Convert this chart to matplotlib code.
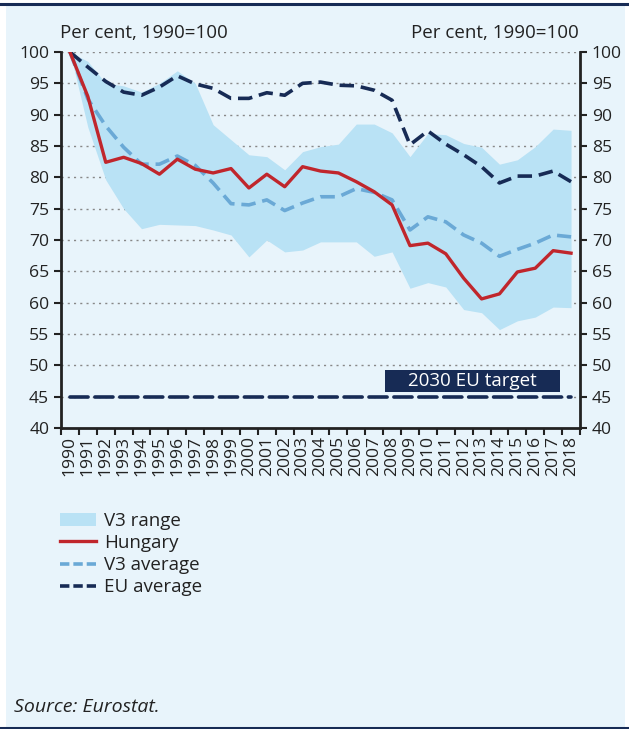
import matplotlib
matplotlib.use('Agg')
import matplotlib.pyplot as plt
from matplotlib.patches import Rectangle, Patch
from matplotlib.lines import Line2D
import numpy as np

plt.rcParams['font.family'] = ['Open Sans', 'DejaVu Sans']

years = [str(y) for y in range(1990, 2019)]

hungary = [100, 92.9, 82.4, 83.2, 82.2, 80.5, 82.9, 81.3, 80.7, 81.4,
           78.3, 80.5, 78.5, 81.7, 81.0, 80.7, 79.3, 77.7, 75.6, 69.1,
           69.5, 67.8, 63.9, 60.6, 61.4, 64.9, 65.5, 68.3, 67.9]
v3_avg = [100, 92.5, 88.2, 84.8, 82.1, 82.1, 83.4, 81.9, 79.1, 75.8,
          75.6, 76.4, 74.7, 75.9, 76.9, 76.9, 78.2, 77.6, 76.4, 71.6,
          73.7, 72.9, 70.8, 69.5, 67.4, 68.5, 69.5, 70.8, 70.5]
eu_avg = [100, 97.6, 95.3, 93.6, 93.1, 94.4, 96.2, 94.9, 94.2, 92.6,
          92.6, 93.5, 93.1, 95.0, 95.2, 94.7, 94.6, 93.9, 92.3, 85.2,
          87.4, 85.3, 83.6, 81.7, 79.1, 80.2, 80.2, 81.0, 79.3]
v3_max = [100, 98.5, 95.0, 94.6, 93.6, 95.0, 97.0, 95.0, 88.4, 86.0,
          83.6, 83.3, 81.2, 84.1, 84.9, 85.3, 88.5, 88.5, 87.1, 83.3,
          87.0, 86.8, 85.4, 84.8, 82.1, 82.8, 84.9, 87.7, 87.5]
v3_min = [100, 88.0, 79.6, 75.0, 71.8, 72.5, 72.4, 72.3, 71.6, 70.8,
          67.3, 70.0, 68.1, 68.4, 69.7, 69.7, 69.7, 67.4, 68.1, 62.3,
          63.2, 62.5, 58.9, 58.4, 55.7, 57.1, 57.7, 59.3, 59.2]
target = 45

BG = '#E8F4FB'
FILL = '#B9E2F5'
NAVY = '#172B55'
RED = '#C0262C'
LBLUE = '#6AA9D6'
INK = '#222222'
FS_TICK = 12.6
FS = 13.5

fig = plt.figure(figsize=(6.29, 7.29), dpi=100)
fig.patch.set_facecolor('white')
# fond du panneau et filets bleu marine
fig.patches.append(Rectangle((6 / 629, 0.003), 619 / 629, 0.99, transform=fig.transFigure,
                             facecolor=BG, edgecolor='none', zorder=-10))
fig.add_artist(Line2D([0, 1], [1 - 3.5 / 729, 1 - 3.5 / 729], color=NAVY, lw=2.2))
fig.add_artist(Line2D([0, 1], [1.5 / 729, 1.5 / 729], color=NAVY, lw=2.2))

ax = fig.add_axes([61 / 629, 1 - 428 / 729, 519 / 629, 376 / 729])
ax.set_facecolor('none')
x = np.arange(len(years))

ax.fill_between(x, v3_min, v3_max, color=FILL, lw=0, zorder=1)
for yv in range(45, 101, 5):
    ax.axhline(yv, color='#888888', lw=1.0, ls=(0, (1.5, 3)), zorder=0.5)
ax.plot(x, [target] * len(x), color=NAVY, lw=2.6, dashes=(5, 1.9), dash_capstyle='round', zorder=3)
ax.plot(x, eu_avg, color=NAVY, lw=2.6, dashes=(4, 1.9), zorder=4)
ax.plot(x, v3_avg, color=LBLUE, lw=2.6, dashes=(4, 1.9), zorder=3)
ax.plot(x, hungary, color=RED, lw=2.4, zorder=5)

ax.set_xlim(-0.5, len(years) - 0.5)
ax.set_ylim(40, 100)
ax.set_yticks(range(40, 101, 5))
ax.set_xticks(x)
ax.set_xticklabels(years, rotation=90, fontsize=FS_TICK, color=INK)
ax.set_xticks(np.arange(-0.5, len(years)), minor=True)
ax.tick_params(axis='x', which='major', length=0, pad=6)
ax.tick_params(axis='x', which='minor', length=5, width=1.5, color=INK)
ax.tick_params(axis='y', length=5, width=1.5, color=INK, labelsize=FS_TICK, labelcolor=INK)
for s in ['left', 'right', 'bottom']:
    ax.spines[s].set_color(INK)
    ax.spines[s].set_linewidth(2)
ax.spines['top'].set_visible(False)

ax2 = ax.twinx()
ax2.set_ylim(40, 100)
ax2.set_yticks(range(40, 101, 5))
ax2.tick_params(axis='y', length=5, width=1.5, color=INK, labelsize=FS_TICK, labelcolor=INK)
for s in ['left', 'right', 'bottom', 'top']:
    ax2.spines[s].set_visible(False)

# étiquette "2030 EU target"
ax.add_patch(Rectangle((17.6, 45.8), 9.8, 3.5, facecolor=NAVY, edgecolor='none', zorder=6))
ax.text(22.5, 47.55, '2030 EU target', color='white', fontsize=FS, ha='center', va='center', zorder=7)

fig.text(60 / 629, 1 - 33 / 729, 'Per cent, 1990=100', fontsize=FS, color=INK, ha='left', va='center')
fig.text(579 / 629, 1 - 33 / 729, 'Per cent, 1990=100', fontsize=FS, color=INK, ha='right', va='center')

handles = [Patch(facecolor=FILL, edgecolor='none', label='V3 range'),
           Line2D([], [], color=RED, lw=2.4, label='Hungary'),
           Line2D([], [], color=LBLUE, lw=2.6, dashes=(2.6, 1.1), label='V3 average'),
           Line2D([], [], color=NAVY, lw=2.6, dashes=(2.6, 1.1), label='EU average')]
fig.legend(handles=handles, loc='upper left', bbox_to_anchor=(43 / 629, 1 - 495 / 729),
           frameon=False, fontsize=FS, handlelength=1.95, handleheight=0.7,
           labelspacing=0.22, handletextpad=0.4, labelcolor=INK)

fig.text(14 / 629, 1 - 707 / 729, 'Source: Eurostat.', fontsize=14, style='italic',
         color=INK, ha='left', va='center')

fig.savefig('out.png', dpi=100, facecolor='white')
